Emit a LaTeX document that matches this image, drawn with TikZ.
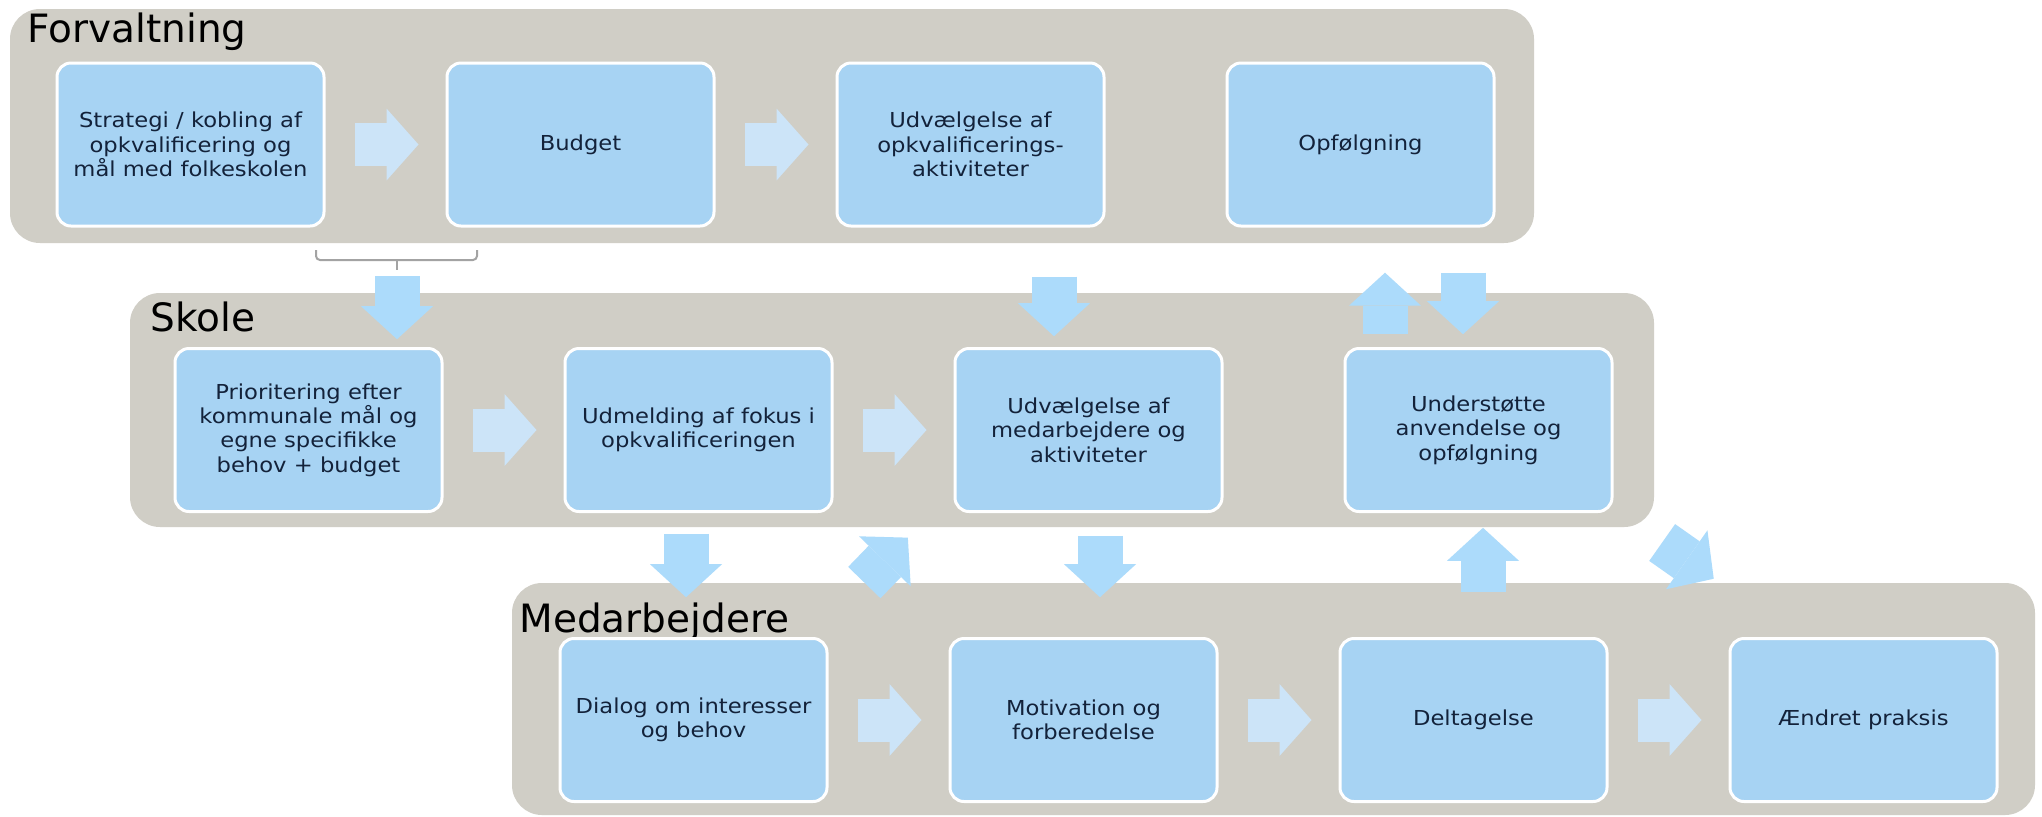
\documentclass[tikz,border=0pt]{standalone}
\usepackage{fontspec}
\setmainfont{DejaVu Sans}
\newfontfamily\boxfont{DejaVu Sans}[FakeStretch=1.1]
\usetikzlibrary{arrows.meta, calc}
\definecolor{bandgray}{HTML}{D0CEC6}
\definecolor{boxblue}{HTML}{A7D3F3}
\definecolor{linkblue}{HTML}{ACDBFB}
\definecolor{flowblue}{HTML}{CCE4F8}
\definecolor{inknavy}{HTML}{13223A}
\definecolor{brgray}{HTML}{A3A3A3}

\begin{document}
\begin{tikzpicture}[
  x=0.5pt, y=-0.5pt,
  every node/.style={text=inknavy, font=\boxfont\fontsize{10.3}{12.2}\selectfont},
  stepbox/.style={rounded corners=7pt, fill=boxblue, draw=white, line width=1.5pt, minimum width=133.5pt, minimum height=81.5pt, align=center, inner sep=2pt},
  bandtitle/.style={anchor=base west, text=black, font=\rmfamily\fontsize{19.5}{22}\selectfont, inner sep=0pt},
  flowarrow/.style={draw=flowblue, line width=21.5pt, -{Triangle[length=16pt, width=36pt, line width=0pt]}, shorten <=14.5pt, shorten >=13.5pt},
  linkarrow/.style={draw=linkblue, line width=22.5pt, -{Triangle[length=16.5pt, width=36pt, line width=0pt]}},
]

% Background
\fill[white] (0,0) rectangle (2042,816);

% Bands
\fill[bandgray, rounded corners=15pt] (10,9) rectangle (1534,243);
\fill[bandgray, rounded corners=15pt] (130,293) rectangle (1654,527);
\fill[bandgray, rounded corners=15pt] (512,583) rectangle (2035,815);

% Band titles
\node[bandtitle] (tforv) at (27,42) {Forvaltning};
\node[bandtitle] (tskole) at (150,331) {Skole};
\node[bandtitle] (tmedarb) at (519,632) {Medarbejdere};

% Forvaltning row
\node[stepbox] (f1) at (190.5,144.5) {Strategi / kobling af\\opkvalificering og\\mål med folkeskolen};
\node[stepbox] (f2) at (580.5,144.5) {Budget};
\node[stepbox] (f3) at (970.5,144.5) {Udvælgelse af\\opkvalificerings-\\aktiviteter};
\node[stepbox] (f4) at (1360.5,144.5) {Opfølgning};

% Skole row
\node[stepbox] (s1) at (308.5,430) {Prioritering efter\\kommunale mål og\\egne specifikke\\behov + budget};
\node[stepbox] (s2) at (698.5,430) {Udmelding af fokus i\\opkvalificeringen};
\node[stepbox] (s3) at (1088.5,430) {Udvælgelse af\\medarbejdere og\\aktiviteter};
\node[stepbox] (s4) at (1478.5,430) {Understøtte\\anvendelse og\\opfølgning};

% Medarbejdere row
\node[stepbox] (m1) at (693.5,720) {Dialog om interesser\\og behov};
\node[stepbox] (m2) at (1083.5,720) {Motivation og\\forberedelse};
\node[stepbox] (m3) at (1473.5,720) {Deltagelse};
\node[stepbox] (m4) at (1863.5,720) {Ændret praksis};

% Arrows inside the bands
\draw[flowarrow] (f1) -- (f2);
\draw[flowarrow] (f2) -- (f3);
\draw[flowarrow] (s1) -- (s2);
\draw[flowarrow] (s2) -- (s3);
\draw[flowarrow] (m1) -- (m2);
\draw[flowarrow] (m2) -- (m3);
\draw[flowarrow] (m3) -- (m4);

% Bracket under strategi + budget
\coordinate (brk) at (397,270);
\draw[brgray, line width=1pt, rounded corners=2pt] (316,250) -- (316,260) -- (477,260) -- (477,250);
\draw[brgray, line width=1pt] (397,260) -- (brk);

% Forvaltning <-> Skole
\draw[linkarrow, shorten <=3pt, shorten >=3.9pt] (brk) -- (brk |- s1.north);
\draw[linkarrow, shorten <=24.6pt, shorten >=5.4pt] ([xshift=41.75pt]f3.south) -- ([xshift=-17.25pt]s3.north);
\draw[linkarrow, shorten <=6.4pt, shorten >=22.6pt] ([xshift=-46.75pt]s4.north) -- ([xshift=12.25pt]f4.south);
\draw[linkarrow, shorten <=22.6pt, shorten >=6.4pt] ([xshift=51.25pt]f4.south) -- ([xshift=-7.75pt]s4.north);

% Skole <-> Medarbejdere
\draw[linkarrow, shorten <=10.4pt, shorten >=19.9pt] ([xshift=-6.25pt]s2.south) -- ([xshift=-3.75pt]m1.north);
\draw[linkarrow, shorten <=37.9pt, shorten >=17.15pt] ([xshift=59.05pt]m1.north) -- ([xshift=116.6pt]s2.south);
\draw[linkarrow, shorten <=11.4pt, shorten >=19.9pt] ([xshift=5.75pt]s3.south) -- ([xshift=8.25pt]m2.north);
\draw[linkarrow, shorten <=22.4pt, shorten >=7.4pt] ([xshift=4.75pt]m3.north) -- ([xshift=2.25pt]s4.south);
\draw[linkarrow, shorten <=25.65pt, shorten >=50.65pt] ([xshift=70.85pt]s4.south) -- ([xshift=-33.45pt]m4.north);

\end{tikzpicture}
\end{document}
